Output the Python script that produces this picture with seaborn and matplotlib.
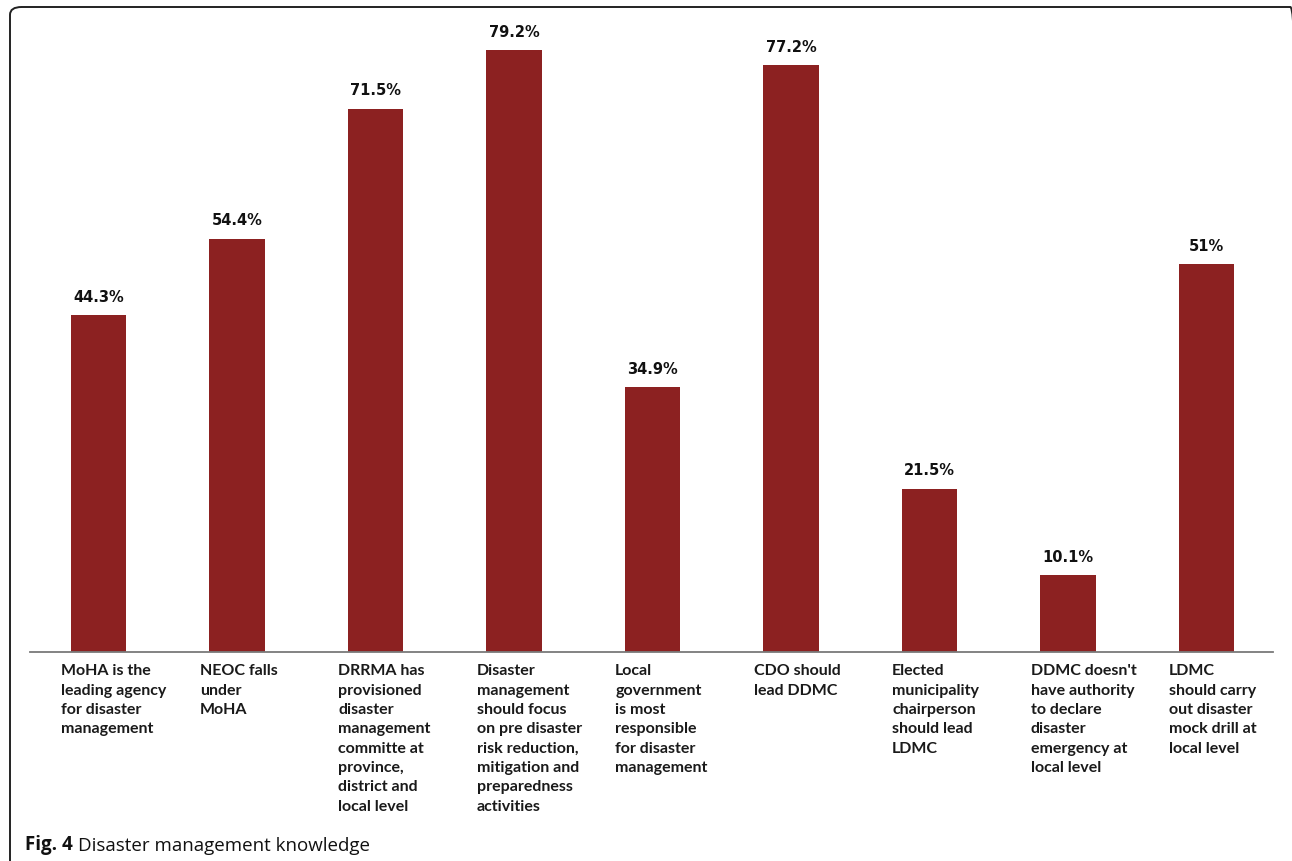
import matplotlib
matplotlib.use("Agg")
import matplotlib.pyplot as plt
import seaborn as sns
import pandas as pd
from matplotlib.patches import FancyBboxPatch
from matplotlib.transforms import blended_transform_factory

categories = [
    "MoHA is the\nleading agency\nfor disaster\nmanagement",
    "NEOC falls\nunder\nMoHA",
    "DRRMA has\nprovisioned\ndisaster\nmanagement\ncommitte at\nprovince,\ndistrict and\nlocal level",
    "Disaster\nmanagement\nshould focus\non pre disaster\nrisk reduction,\nmitigation and\npreparedness\nactivities",
    "Local\ngovernment\nis most\nresponsible\nfor disaster\nmanagement",
    "CDO should\nlead DDMC",
    "Elected\nmunicipality\nchairperson\nshould lead\nLDMC",
    "DDMC doesn't\nhave authority\nto declare\ndisaster\nemergency at\nlocal level",
    "LDMC\nshould carry\nout disaster\nmock drill at\nlocal level",
]
values = [44.3, 54.4, 71.5, 79.2, 34.9, 77.2, 21.5, 10.1, 51.0]
value_labels = ["44.3%", "54.4%", "71.5%", "79.2%", "34.9%", "77.2%", "21.5%", "10.1%", "51%"]
caption_bold = "Fig. 4"
caption_text = "Disaster management knowledge"

BAR_COLOR = "#8C2121"
W, H = 1292, 862

sns.set_theme(style="white")
plt.rcParams["font.family"] = ["DejaVu Sans"]

fig = plt.figure(figsize=(W / 100, H / 100), dpi=100)
fig.patch.set_facecolor("white")

# axes: baseline at y=653px, left 30px, right 1273px
ax_left, ax_right = 30, 1273
ax_bottom_px, ax_top_px = 653, 30
ax = fig.add_axes([ax_left / W, (H - ax_bottom_px) / H,
                   (ax_right - ax_left) / W, (ax_bottom_px - ax_top_px) / H])

df = pd.DataFrame({"cat": [str(i) for i in range(len(values))], "val": values})
bar_width = 0.40
sns.barplot(data=df, x="cat", y="val", color=BAR_COLOR, saturation=1,
            width=bar_width, ax=ax, edgecolor="none")

ax.set_xlim(-0.495, 8.48)
ax.set_ylim(0, (ax_bottom_px - ax_top_px) / 7.6)
ax.set_xlabel("")
ax.set_ylabel("")
ax.set_xticks([])
ax.set_yticks([])
for s in ["top", "right", "left"]:
    ax.spines[s].set_visible(False)
ax.spines["bottom"].set_color("#7a7a7a")
ax.spines["bottom"].set_linewidth(1.3)

# value labels
for i, (v, lab) in enumerate(zip(values, value_labels)):
    ax.annotate(lab, xy=(i, v), xytext=(0, 8), textcoords="offset points",
                ha="center", va="bottom", fontsize=10.5, fontweight="heavy",
                color="#111111", family="DejaVu Sans")

# category labels below baseline
tr = blended_transform_factory(ax.transData, ax.transAxes)
for i, cat in enumerate(categories):
    ax.annotate(cat, xy=(i - bar_width / 2 - 0.07, 0), xycoords=tr,
                xytext=(0, -8), textcoords="offset points",
                ha="left", va="top", fontsize=11.5, fontweight="bold",
                color="#1a1a1a", family="Lato", linespacing=1.49,
                annotation_clip=False)

# caption
t1 = fig.text(25 / W, 1 - 850 / H, caption_bold, fontsize=13.5, fontweight="bold",
              family="Open Sans", color="#111111", ha="left", va="baseline")
fig.canvas.draw()
ax.annotate(caption_text, xy=(1, 0), xycoords=t1, xytext=(4, 0),
            textcoords="offset points", ha="left", va="bottom", fontsize=13.5,
            family="Open Sans", color="#111111", annotation_clip=False)

# rounded border (open beyond the right/bottom edges)
x0, y0, x1, y1 = 10, 8, 1302, 872
box = FancyBboxPatch((x0 / W, 1 - y1 / H), (x1 - x0) / W, (y1 - y0) / H,
                     boxstyle="round,pad=0,rounding_size=0.009",
                     transform=fig.transFigure, fill=False,
                     edgecolor="#222222", linewidth=1.4, clip_on=False)
fig.patches.append(box)

fig.savefig("out.png", dpi=100, facecolor="white")
